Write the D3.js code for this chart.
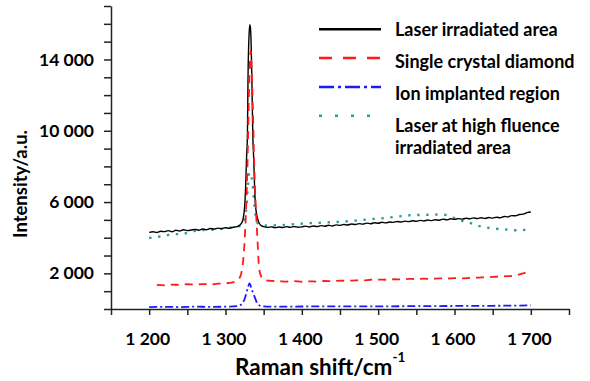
<!DOCTYPE html>
<html>
<head>
<meta charset="utf-8">
<script src="https://cdn.jsdelivr.net/npm/d3@7"></script>
<style>
  body { margin: 0; background: #fff; }
  text { font-family: Lato, "Open Sans", sans-serif; font-weight: bold; fill: #000; }
</style>
</head>
<body>
<div id="chart"></div>
<script>
// Laser irradiated area (black, solid)
const laserShift = [1200,1205,1210,1215,1220,1225,1230,1235,1240,1245,1250,1255,1260,1265,1270,1275,1280,1285,1290,1295,1300,1305,1310,1315,1318,1322,1325,1326.5,1327.5,1328.7,1329.5,1331,1332,1333,1334.5,1335.8,1337,1338,1339.5,1342.5,1346,1350,1355,1360,1365,1370,1375,1380,1385,1390,1395,1400,1405,1410,1415,1420,1425,1430,1435,1440,1445,1450,1455,1460,1465,1470,1475,1480,1485,1490,1495,1500,1505,1510,1515,1520,1525,1530,1535,1540,1545,1550,1555,1560,1565,1570,1575,1580,1585,1590,1595,1600,1605,1610,1615,1620,1625,1630,1635,1640,1645,1650,1655,1660,1665,1670,1675,1680,1685,1690,1695,1700];
const laserInt = [4300,4330,4290,4360,4340,4400,4330,4420,4380,4450,4400,4430,4470,4420,4490,4450,4520,4480,4540,4510,4560,4530,4590,4620,4680,4900,5700,7000,8400,9700,13000,15500,15950,15600,13000,9700,8400,7000,5700,5000,4700,4620,4580,4610,4560,4600,4570,4620,4580,4630,4590,4610,4650,4600,4660,4620,4680,4640,4700,4660,4720,4690,4740,4710,4770,4740,4790,4760,4820,4780,4840,4810,4870,4830,4880,4860,4910,4880,4930,4900,4950,4920,4970,4940,4990,4960,5010,4980,5040,5000,5060,5030,5070,5040,5090,5060,5110,5070,5120,5080,5130,5100,5150,5120,5190,5170,5240,5230,5300,5320,5410,5440];

// Single crystal diamond (red, dashed)
const diamondShift = [1210,1220,1230,1240,1250,1260,1270,1280,1290,1300,1308,1314,1318,1322,1325,1328.5,1331,1333,1335,1338,1342,1344,1347,1351,1360,1370,1380,1390,1400,1410,1420,1430,1440,1450,1460,1470,1480,1490,1500,1510,1520,1530,1540,1550,1560,1570,1580,1590,1600,1610,1620,1630,1640,1650,1660,1670,1680,1690,1700];
const diamondInt = [1350,1330,1370,1350,1390,1370,1400,1380,1420,1440,1480,1560,1700,2300,3800,7600,12500,14500,12500,7600,3800,2300,1800,1620,1580,1560,1540,1560,1530,1550,1540,1570,1560,1590,1580,1610,1600,1640,1650,1640,1670,1660,1690,1680,1700,1690,1720,1710,1730,1720,1750,1760,1780,1800,1820,1840,1890,2000,2150];

// Ion implanted region (blue, dash-dot)
const ionShift = [1200,1220,1240,1260,1280,1300,1315,1322,1326,1329,1331.5,1334,1338,1342,1347,1360,1400,1450,1500,1550,1600,1650,1700];
const ionInt = [110,120,110,130,120,130,160,300,690,1150,1440,1150,690,300,160,130,140,150,150,160,170,180,200];

// Laser at high fluence irradiated area (teal, dotted)
const fluenceShift = [1200,1210,1220,1230,1240,1250,1260,1270,1280,1290,1300,1310,1318,1322,1325,1327.4,1329.5,1331,1333,1335.5,1338.2,1341,1345,1350,1360,1370,1380,1390,1400,1410,1420,1430,1440,1450,1460,1470,1480,1490,1500,1510,1520,1530,1540,1550,1560,1570,1580,1590,1600,1610,1620,1630,1640,1650,1660,1670,1680,1690,1700];
const fluenceInt = [3980,4050,4090,4200,4200,4270,4380,4430,4440,4480,4520,4590,4650,4750,5000,5700,7000,7650,7600,7000,5700,4900,4720,4680,4690,4700,4720,4760,4790,4820,4830,4850,4870,4890,4920,4960,5000,5040,5070,5110,5160,5210,5250,5270,5280,5290,5300,5270,5100,4950,4830,4680,4590,4520,4480,4450,4420,4430,4460];

const xTicks = d3.range(1150, 1751, 50);
const xLabels = [1200, 1300, 1400, 1500, 1600, 1700];
const yTicks = d3.range(0, 17001, 1000);
const yLabels = [2000, 6000, 10000, 14000];

const legendNames = ["Laser irradiated area", "Single crystal diamond", "Ion implanted region", ["Laser at high fluence", "irradiated area"]];

const width = 590, height = 381;
const margin = { top: 6, right: 21, bottom: 72, left: 111 };

const svg = d3.select("#chart").append("svg")
  .attr("width", width)
  .attr("height", height);

const x = d3.scaleLinear().domain([1150, 1750]).range([margin.left, width - margin.right]);
const y = d3.scaleLinear().domain([0, 17000]).range([height - margin.bottom, margin.top]);

const fmt = d3.formatLocale({ decimal: ".", thousands: " ", grouping: [3], currency: ["", ""] }).format(",");

// x axis ticks
svg.append("g")
  .attr("transform", `translate(0, ${y(0)})`)
  .call(d3.axisBottom(x).tickValues(xTicks).tickFormat("").tickSize(6).tickSizeOuter(0))
  .call(g => g.selectAll("path, line").attr("stroke", "#222").attr("stroke-width", 1.5));

// x labels
svg.append("g")
  .attr("transform", `translate(0, ${y(0)})`)
  .call(d3.axisBottom(x).tickValues(xLabels).tickFormat(fmt).tickSize(0).tickPadding(24))
  .call(g => g.select(".domain").remove())
  .call(g => g.selectAll("text").attr("font-size", 17.5).attr("font-family", null).attr("dx", -2));

// y axis ticks
svg.append("g")
  .attr("transform", `translate(${x(1150)}, 0)`)
  .call(d3.axisLeft(y).tickValues(yTicks).tickFormat("").tickSize(7).tickSizeOuter(0))
  .call(g => g.selectAll("path, line").attr("stroke", "#222").attr("stroke-width", 1.5));

// y labels
svg.append("g")
  .attr("transform", `translate(${x(1150)}, 0)`)
  .call(d3.axisLeft(y).tickValues(yLabels).tickFormat(fmt).tickSize(0).tickPadding(17))
  .call(g => g.select(".domain").remove())
  .call(g => g.selectAll("text").attr("font-size", 17.5).attr("font-family", null));

const line = d3.line()
  .x(d => x(d[0]))
  .y(d => y(d[1]))
  .curve(d3.curveMonotoneX);

const series = [
  { name: legendNames[0], data: d3.zip(laserShift, laserInt), color: "#000", width: 1.4, dash: null, legDash: null },
  { name: legendNames[1], data: d3.zip(diamondShift, diamondInt), color: "#ff1a1a", width: 1.8, dash: "8,6", legDash: "13,11" },
  { name: legendNames[2], data: d3.zip(ionShift, ionInt), color: "#1a1aff", width: 1.8, dash: "8,3,2,3", legDash: "15,4,3,4" },
  { name: legendNames[3], data: d3.zip(fluenceShift, fluenceInt), color: "#2a9d9d", width: 2.4, dash: "2.4,6.6", legDash: "3,13" }
];

// dotted/dashed first, black on top like the reference
[3, 2, 0, 1].forEach(i => {
  const s = series[i];
  svg.append("path")
    .datum(s.data)
    .attr("fill", "none")
    .attr("stroke", s.color)
    .attr("stroke-width", s.width)
    .attr("stroke-dasharray", s.dash)
    .attr("d", line);
});

// legend: symbol rows and text rows are spaced a bit differently in the original
const legend = svg.append("g").attr("transform", "translate(319, 0)");
series.forEach((s, i) => {
  legend.append("line")
    .attr("x1", 0).attr("x2", 62)
    .attr("y1", 29.3 + i * 28.8).attr("y2", 29.3 + i * 28.8)
    .attr("stroke", s.color)
    .attr("stroke-width", 2.5)
    .attr("stroke-dasharray", s.legDash);
  const names = Array.isArray(s.name) ? s.name : [s.name];
  names.forEach((n, j) => {
    legend.append("text")
      .attr("x", 76)
      .attr("y", 36 + i * 31.9 + j * 22.5)
      .attr("font-size", 18)
      .text(n);
  });
});

// axis titles
svg.append("text")
  .attr("transform", `translate(27, 184) rotate(-90)`)
  .attr("text-anchor", "middle")
  .attr("font-size", 18.5)
  .text("Intensity/a.u.");

const xt = svg.append("text")
  .attr("x", 235)
  .attr("y", 375)
  .attr("font-size", 22.5)
  .text("Raman shift/cm");
xt.append("tspan")
  .attr("dy", -13)
  .attr("font-size", 13.5)
  .text("-1");
</script>
</body>
</html>
